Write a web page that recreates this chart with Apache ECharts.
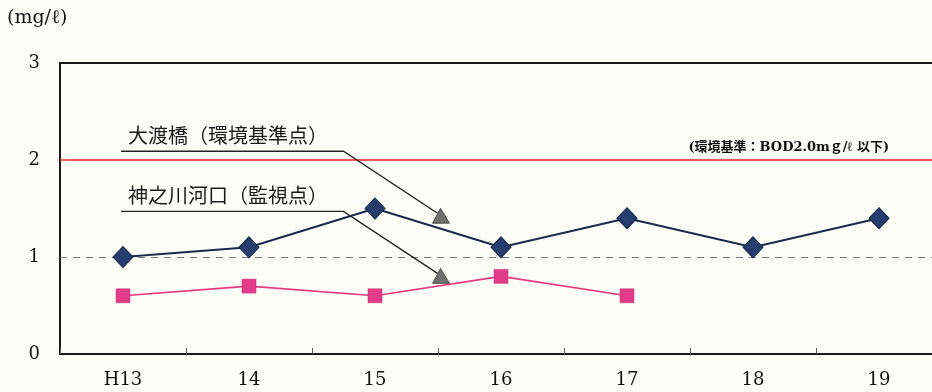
<!DOCTYPE html>
<html>
<head>
<meta charset="utf-8">
<script src="https://cdn.jsdelivr.net/npm/echarts@6/dist/echarts.min.js"></script>
<style>
  html, body { margin: 0; padding: 0; background: #fdfdf8; overflow: hidden; }
  #frame { width: 932px; height: 392px; overflow: hidden; }
  /* plot runs slightly past the right edge of the view */
  #chart { width: 942px; height: 392px; }
</style>
</head>
<body>
<div id="frame"><div id="chart"></div></div>
<script>
// Fiscal years (Heisei)
const years = ['H13', '14', '15', '16', '17', '18', '19'];
// BOD annual values (mg/ℓ)
const owatariBashi = [1.0, 1.1, 1.5, 1.1, 1.4, 1.1, 1.4];   // 大渡橋(環境基準点)
const kannogawaKako = [0.6, 0.7, 0.6, 0.8, 0.6, null, null]; // 神之川河口(監視点)
// Reference levels
const standardLevel = 2.0;
const guideLevel = 1.0;
const yTicks = [0, 1, 2, 3];

const serif = '"DejaVu Serif", "Liberation Serif", serif';
const gothic = '"Noto Sans CJK JP", sans-serif';

const chart = echarts.init(document.getElementById('chart'), null, { renderer: 'canvas' });

chart.setOption({
  backgroundColor: '#fdfdf8',
  animation: false,
  grid: {
    left: 60, top: 63, bottom: 38, right: 0,
    show: true, borderColor: '#1a1a1a', borderWidth: 2, backgroundColor: 'transparent'
  },
  xAxis: {
    type: 'category',
    data: years,
    boundaryGap: true,
    axisLine: { lineStyle: { color: '#1a1a1a', width: 2 } },
    axisTick: { show: true, inside: true, length: 6, lineStyle: { color: '#555', width: 1 } },
    axisLabel: { color: '#111', fontFamily: serif, fontSize: 18, margin: 17 },
    splitLine: { show: false }
  },
  yAxis: {
    type: 'value',
    min: yTicks[0], max: yTicks[yTicks.length - 1], interval: 1,
    axisLine: { show: true, lineStyle: { color: '#1a1a1a', width: 2 } },
    axisTick: { show: false },
    axisLabel: { color: '#111', fontFamily: serif, fontSize: 18, margin: 20 },
    splitLine: { show: false }
  },
  series: [
    {
      name: '大渡橋(環境基準点)',
      type: 'line',
      data: owatariBashi,
      symbol: 'diamond',
      symbolSize: [20, 21],
      lineStyle: { color: '#1b2b4b', width: 2 },
      itemStyle: { color: '#243f6e', borderColor: '#14213d', borderWidth: 1 },
      z: 5,
      markLine: {
        silent: true,
        symbol: 'none',
        label: { show: false },
        data: [
          { yAxis: standardLevel, lineStyle: { color: '#e8202a', width: 1.6, type: 'solid' } },
          { yAxis: guideLevel, lineStyle: { color: '#777', width: 1.2, type: [7, 6] } }
        ]
      }
    },
    {
      name: '神之川河口(監視点)',
      type: 'line',
      data: kannogawaKako,
      symbol: 'rect',
      symbolSize: 14,
      lineStyle: { color: '#e6377f', width: 1.6 },
      itemStyle: { color: '#e03c8a', borderColor: '#c92a74', borderWidth: 0.5 },
      z: 4
    }
  ]
});

// Pixel position for a fractional category index and a value
function pt(idx, val) {
  const i0 = Math.floor(idx), i1 = i0 + 1;
  const x0 = chart.convertToPixel({ xAxisIndex: 0 }, i0);
  const x1 = chart.convertToPixel({ xAxisIndex: 0 }, i1);
  const x = x0 + (x1 - x0) * (idx - i0);
  const y = chart.convertToPixel({ yAxisIndex: 0 }, val);
  return [x, y];
}

// Callout: label, underline, leader line and arrowhead
function callout(text, textPos, lineStart, elbow, tip) {
  const t = pt(textPos[0], textPos[1]);
  const a = pt(lineStart[0], lineStart[1]);
  const b = pt(elbow[0], elbow[1]);
  const c = pt(tip[0], tip[1]);
  return [
    {
      type: 'text', x: t[0], y: t[1],
      style: { text: text, font: '20px ' + gothic, fill: '#1a1a1a', textAlign: 'left', textVerticalAlign: 'middle' },
      z: 20
    },
    {
      type: 'polyline',
      shape: { points: [a, b, [c[0] - 3, c[1] - 4]] },
      style: { stroke: '#222', lineWidth: 1.4, fill: null },
      z: 20
    },
    {
      type: 'polygon',
      shape: { points: [[c[0], c[1] - 9], [c[0] - 8, c[1] + 6], [c[0] + 9, c[1] + 6]] },
      style: { fill: '#707070', stroke: '#3a3a3a', lineWidth: 0.8 },
      z: 21
    }
  ];
}

const graphics = [
  {
    type: 'text', left: 7, top: 9,
    style: { text: '(mg/ℓ)', font: '19px ' + serif, fill: '#111' }
  },
  {
    type: 'text',
    x: pt(6.08, 0)[0], y: pt(0, standardLevel)[1] - 12,
    style: { text: '(環境基準：BOD2.0mｇ/ℓ 以下)', font: 'bold 13px ' + serif + ', ' + gothic, fill: '#111', textAlign: 'right', textVerticalAlign: 'middle' },
    z: 20
  }
].concat(
  callout('大渡橋（環境基準点）', [0.04, 2.25], [-0.015, 2.09], [1.75, 2.09], [2.52, 1.41]),
  callout('神之川河口（監視点）', [0.04, 1.63], [-0.015, 1.47], [1.75, 1.47], [2.52, 0.79])
);

chart.setOption({ graphic: graphics });
</script>
</body>
</html>
